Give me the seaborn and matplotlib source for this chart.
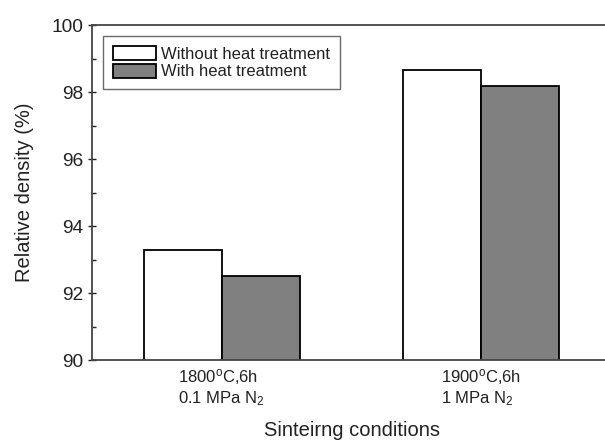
import matplotlib
matplotlib.use("Agg")
import matplotlib.pyplot as plt
import seaborn as sns
import pandas as pd
from matplotlib.ticker import MultipleLocator

categories = ["1800$^{\\mathrm{o}}$C,6h\n0.1 MPa N$_2$", "1900$^{\\mathrm{o}}$C,6h\n1 MPa N$_2$"]
series_names = ["Without heat treatment", "With heat treatment"]
without_ht = [93.27, 98.67]
with_ht = [92.52, 98.18]

df = pd.DataFrame({
    "cond": categories * 2,
    "series": [series_names[0]] * 2 + [series_names[1]] * 2,
    "value": without_ht + with_ht,
})

sns.set_style("ticks")
plt.rcParams["font.family"] = ["Liberation Sans", "DejaVu Sans"]
plt.rcParams["mathtext.fontset"] = "custom"
plt.rcParams["mathtext.rm"] = "Liberation Sans"
plt.rcParams["mathtext.it"] = "Liberation Sans"
plt.rcParams["mathtext.default"] = "regular"

fig = plt.figure(figsize=(6.05, 4.4), dpi=100)
ax = fig.add_axes([92 / 605, 1 - 360 / 440, (611 - 92) / 605, (360 - 25) / 440])

sns.barplot(data=df, x="cond", y="value", hue="series", order=categories,
            hue_order=series_names, palette=["white", "#808080"],
            edgecolor="black", linewidth=1.3, width=0.6, gap=0, ax=ax,
            errorbar=None)

ax.set_ylim(90, 100)
ax.set_xlim(-0.5, 1.5)
ax.yaxis.set_major_locator(MultipleLocator(2))
ax.yaxis.set_minor_locator(MultipleLocator(1))
ax.tick_params(axis="y", which="major", direction="inout", length=6, width=1, labelsize=13.8, colors="#222222", pad=3)
ax.tick_params(axis="y", which="minor", direction="in", length=3, width=1)
ax.tick_params(axis="x", length=0, labelsize=12, pad=5)
for lab in ax.get_xticklabels():
    lab.set_horizontalalignment("center")
    lab.set_multialignment("left")
    lab.set_color("#222222")

for s in ax.spines.values():
    s.set_color("#444444")
    s.set_linewidth(1.3)

ax.set_ylabel("Relative density (%)", fontsize=14.5, color="#222222", labelpad=13)
ax.set_xlabel("Sinteirng conditions", fontsize=14.5, color="#222222", labelpad=9)

leg = ax.legend(loc="upper left", bbox_to_anchor=(11 / 519, 1 - 11 / 335),
                frameon=True, fancybox=False, edgecolor="#444444",
                fontsize=12, handlelength=2.6, handleheight=0.9,
                handletextpad=0.3, labelspacing=0.12, borderpad=0.6,
                borderaxespad=0)
leg.get_frame().set_linewidth(1.0)
for t in leg.get_texts():
    t.set_color("#222222")

fig.savefig("out.png", dpi=100)
